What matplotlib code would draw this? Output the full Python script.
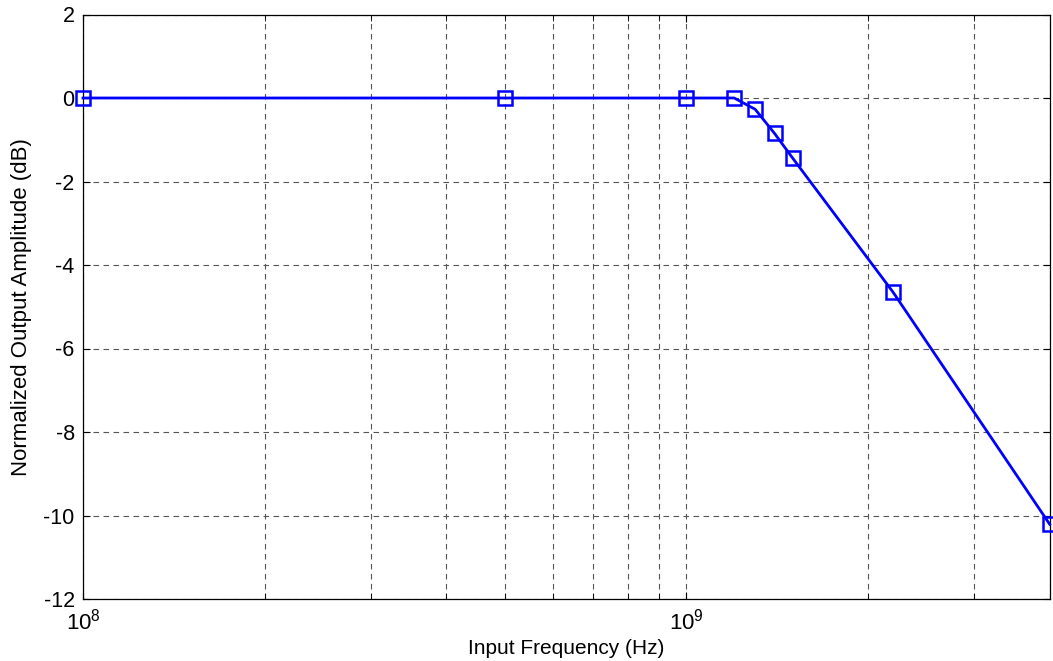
import numpy as np
import matplotlib
matplotlib.use('Agg')
import matplotlib.pyplot as plt
from matplotlib.ticker import LogLocator, FixedLocator, NullFormatter, FuncFormatter

plt.rcParams['font.family'] = ['Liberation Sans', 'DejaVu Sans']
plt.rcParams['axes.unicode_minus'] = False
plt.rcParams['mathtext.fontset'] = 'custom'
plt.rcParams['mathtext.rm'] = 'Liberation Sans'
plt.rcParams['mathtext.default'] = 'regular'

# Data
freq_hz = [1e8, 5e8, 1e9, 1.2e9, 1.3e9, 1.4e9, 1.5e9, 2.2e9, 4e9]
amp_db = [0, 0, 0, 0, -0.27, -0.85, -1.44, -4.65, -10.21]
y_ticks = [-12, -10, -8, -6, -4, -2, 0, 2]

fig = plt.figure(figsize=(10.53, 6.61), dpi=100)
ax = fig.add_axes([83 / 1053, 62 / 661, 966.7 / 1053, 584.5 / 661])

ax.semilogx(freq_hz, amp_db, color='#0000ff', linewidth=2, marker='s',
            markersize=10, markerfacecolor='none', markeredgewidth=1.8,
            clip_on=False, zorder=3)

ax.set_xlim(1e8, 4e9)
ax.set_ylim(-12, 2)
ax.yaxis.set_major_locator(FixedLocator(y_ticks))
ax.xaxis.set_major_locator(LogLocator(base=10, numticks=10))
ax.xaxis.set_major_formatter(FuncFormatter(lambda v, p: '$10^{%d}$' % round(np.log10(v))))
ax.xaxis.set_minor_locator(LogLocator(base=10, subs=np.arange(2, 10), numticks=10))
ax.xaxis.set_minor_formatter(NullFormatter())

ax.grid(True, which='both', axis='x', linestyle=(0, (5, 4)), color='#555555', linewidth=0.8)
ax.grid(True, which='major', axis='y', linestyle=(0, (5, 4)), color='#555555', linewidth=0.8)

ax.tick_params(which='both', direction='in', top=True, right=True)
ax.tick_params(which='major', length=5)
ax.tick_params(which='minor', length=4)
ax.tick_params(axis='y', pad=6, labelsize=15.5)
ax.tick_params(axis='x', pad=7, labelsize=16)
for s in ax.spines.values():
    s.set_linewidth(0.9)

ax.set_xlabel('Input Frequency (Hz)', fontsize=15, labelpad=3)
ax.set_ylabel('Normalized Output Amplitude (dB)', fontsize=16, labelpad=8)

fig.savefig('out.png', dpi=100)
